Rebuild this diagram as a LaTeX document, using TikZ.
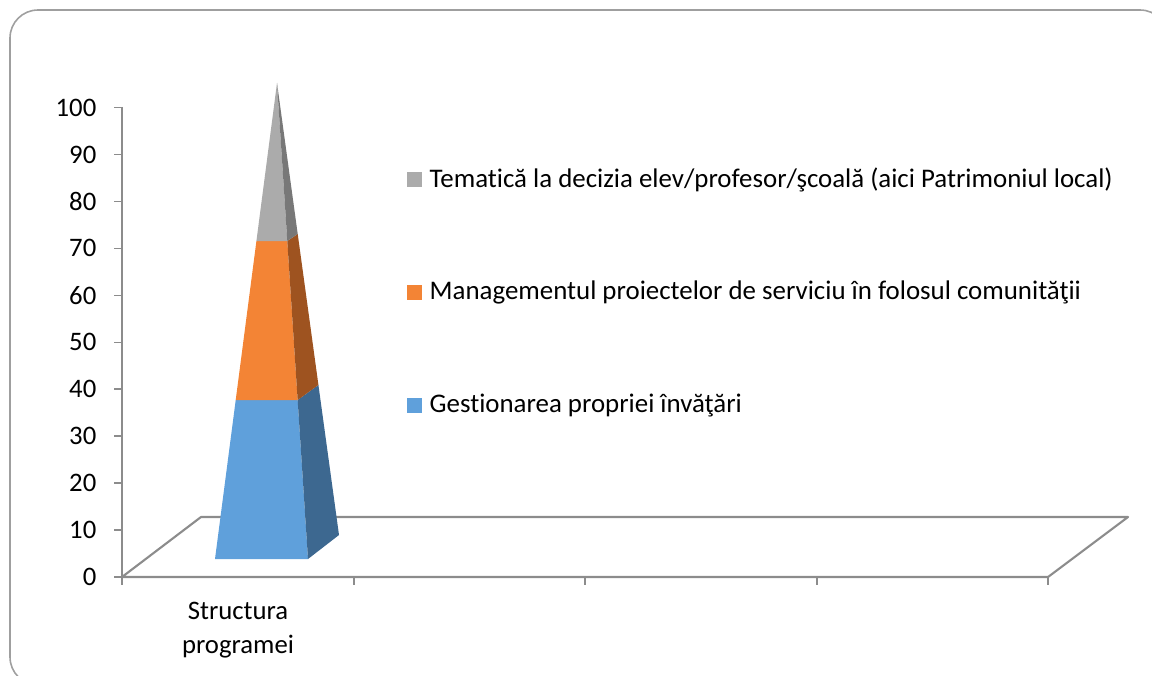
\documentclass[tikz,border=0pt]{standalone}
\usepackage{fontspec}
\setmainfont[Ligatures=NoCommon,RawFeature={-liga;-clig;-calt}]{Carlito}
\usetikzlibrary{calc,positioning}
\definecolor{bluefront}{HTML}{5FA0DB}
\definecolor{blueside}{HTML}{3D6890}
\definecolor{orangefront}{HTML}{F38435}
\definecolor{orangeside}{HTML}{9E5320}
\definecolor{grayfront}{HTML}{ABABAB}
\definecolor{grayside}{HTML}{787878}
\definecolor{gridgray}{HTML}{8C8C8C}

\begin{document}
\begin{tikzpicture}[x=0.1mm,y=-0.1mm,
  axisline/.style={gridgray,line width=0.6pt,line join=round},
  ticklab/.style={anchor=east,inner sep=0pt,font=\fontsize{7.6pt}{9pt}\selectfont},
  legbox/.style={minimum size=1.55mm,inner sep=0pt,draw=none},
  legtext/.style={anchor=west,inner sep=0pt,font=\fontsize{7.65pt}{9pt}\selectfont}]
\useasboundingbox (0,0) rectangle (1152,675);
% frame
\draw[gray!75,line width=0.45pt,rounded corners=2.8mm] (10,10) rectangle (1168,685);
% floor and axes
\draw[axisline] (122,577) -- (1048,577) -- (1128,517) -- (201,517) -- cycle;
\draw[axisline,line width=0.45pt] (122,107) -- (122,577);
\foreach \v in {0,...,10}{
  \draw[axisline,line width=0.45pt] (114,577-46.94*\v) -- (122,577-46.94*\v);
  \pgfmathtruncatemacro{\lab}{10*\v}
  \node[ticklab] (ylab\v) at (97,577-46.94*\v) {\lab};
}
\foreach \x in {122,354,585,817,1048}
  \draw[axisline,line width=0.45pt] (\x,577) -- (\x,585);
% pyramid
\coordinate (apex) at (277,83);
\coordinate (fl) at (215,559);
\coordinate (fr) at (308,559);
\coordinate (br) at (339,535);
\coordinate (fl1) at ($(fl)!0.334!(apex)$);
\coordinate (fr1) at ($(fr)!0.334!(apex)$);
\coordinate (br1) at ($(br)!0.332!(apex)$);
\coordinate (fl2) at ($(fl)!0.668!(apex)$);
\coordinate (fr2) at ($(fr)!0.668!(apex)$);
\coordinate (br2) at ($(br)!0.666!(apex)$);
\fill[bluefront] (fl) -- (fr) -- (fr1) -- (fl1) -- cycle;
\fill[blueside] (fr) -- (br) -- (br1) -- (fr1) -- cycle;
\fill[orangefront] (fl1) -- (fr1) -- (fr2) -- (fl2) -- cycle;
\fill[orangeside] (fr1) -- (br1) -- (br2) -- (fr2) -- cycle;
\fill[grayfront] (fl2) -- (fr2) -- (apex) -- cycle;
\fill[grayside] (fr2) -- (br2) -- (apex) -- cycle;
% category
\node[align=center,inner sep=0pt,font=\fontsize{7.6pt}{9.6pt}\selectfont] (cat) at (238,630) {Structura\\programei};
% legend
\node[legbox,fill=grayfront] (leg3) at (414.5,179.5) {};
\node[legtext] (legtext3) at (429,179.5) {Tematică la decizia elev/profesor/şcoală (aici Patrimoniul local)};
\node[legbox,fill=orangefront] (leg2) at (414.5,292.5) {};
\node[legtext] (legtext2) at (429,292.5) {Managementul proiectelor de serviciu în folosul comunităţii};
\node[legbox,fill=bluefront] (leg1) at (414.5,405.5) {};
\node[legtext] (legtext1) at (429,405.5) {Gestionarea propriei învăţări};
\end{tikzpicture}
\end{document}
